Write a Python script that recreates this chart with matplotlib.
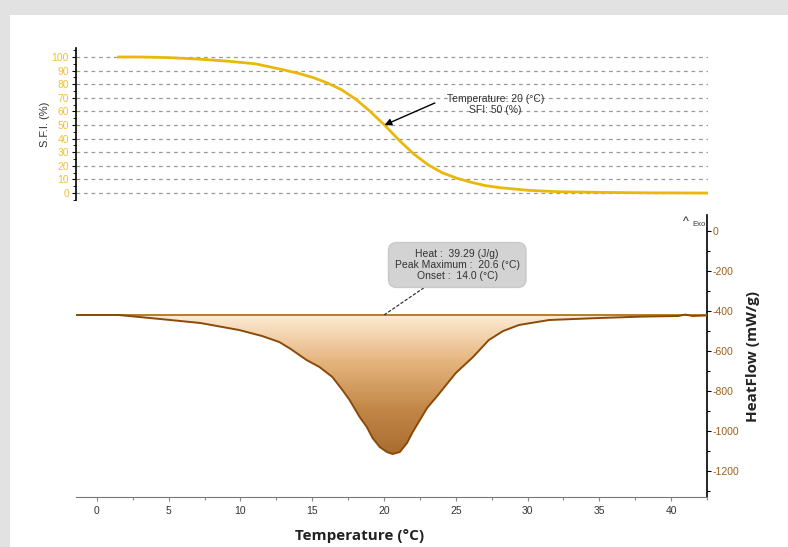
import matplotlib.pyplot as plt
import numpy as np
from matplotlib.patches import Rectangle
from matplotlib.ticker import MultipleLocator
from matplotlib.colors import LinearSegmentedColormap

plt.rcParams["font.family"] = ["Liberation Sans", "DejaVu Sans"]
plt.rcParams["axes.unicode_minus"] = False

# SFI curve (top panel)
sfi_temp = [1.5, 3, 5, 7, 9, 11, 13, 14, 15, 16, 17, 18, 19, 20, 21, 22, 23, 24,
            25, 26, 27, 28, 30, 32, 35, 38, 42.5]
sfi_vals = [100, 100, 99.5, 98.5, 97, 95, 90.5, 88, 85, 81, 76, 69, 60, 50, 39, 29,
            21, 15, 11, 8, 5.5, 4, 2, 1, 0.5, 0.2, 0]

# heat flow curve (bottom panel)
hf_temp = [-1.5, 1.5, 4.4, 7.2, 9.9, 11.5, 12.7, 13.5, 14.1, 14.6, 15.5, 16.4, 17.1,
           17.6, 18.3, 18.8, 19.2, 19.7, 20.2, 20.6, 21.1, 21.6, 22.0, 22.5, 23.0, 23.65,
           25.0, 26.2, 27.3, 28.3, 29.4, 31.5, 35, 38, 40.5, 41, 41.5, 42.5]
hf_vals = [-420, -420, -440, -460, -495, -525, -555, -590, -620, -645, -680, -730, -795,
           -845, -930, -980, -1035, -1080, -1105, -1115, -1105, -1060, -1005, -945, -885,
           -830, -710, -630, -545, -500, -470, -445, -435, -428, -425, -418, -425, -422]
baseline = -420

W, H = 788, 547
fig = plt.figure(figsize=(W / 100, H / 100), dpi=100, facecolor="#e2e2e2")
# page frame
page = Rectangle((10 / W, 0), 1, 1 - 15 / H, transform=fig.transFigure,
                 facecolor="white", edgecolor="none", zorder=-10)
fig.add_artist(page)

ax1 = fig.add_axes([76 / W, 1 - 200 / H, (708 - 76) / W, (200 - 48) / H])
ax2 = fig.add_axes([76 / W, 1 - 497 / H, (707 - 76) / W, (497 - 215) / H])
for a in (ax1, ax2):
    a.set_facecolor("none")

xlim = (-1.46, 42.5)

# ---- top panel
ax1.plot(sfi_temp, sfi_vals, color="#e8b90c", lw=2)
ax1.set_xlim(xlim)
ax1.set_ylim(-5.1, 106.6)
ax1.set_yticks(range(0, 101, 10))
ax1.yaxis.set_minor_locator(MultipleLocator(5))
ax1.tick_params(axis="y", labelsize=7.5, labelcolor="#f0c030", length=3, width=0.8, pad=2)
ax1.tick_params(axis="y", which="minor", length=2)
ax1.set_xticks([])
for s in ("top", "right", "bottom"):
    ax1.spines[s].set_visible(False)
ax1.spines["left"].set_linewidth(1.2)
ax1.grid(axis="y", color="#999999", ls=(0, (3, 3)), lw=0.9)
ax1.set_ylabel("S.F.I. (%)", fontsize=8, color="#333333", labelpad=1)
ax1.text(27.7, 65, "Temperature: 20 (°C)\nSFI: 50 (%)", fontsize=7.5, color="#333333",
         ha="center", va="center")
ax1.annotate("", xy=(20, 50), xytext=(23.5, 66.2),
             arrowprops=dict(arrowstyle="-|>", color="black", lw=1,
                             shrinkA=0, shrinkB=0, mutation_scale=10))

# ---- bottom panel
t = np.array(hf_temp)
v = np.array(hf_vals)
poly = ax2.fill_between(t, baseline, v, color="none")
grad = np.linspace(0, 1, 256).reshape(-1, 1)
cmap = LinearSegmentedColormap.from_list("heat", ["#fdebd3", "#e5b47e", "#c38848", "#a86c30"])
img = ax2.imshow(grad, cmap=cmap, aspect="auto", origin="upper",
                 extent=[xlim[0], xlim[1], -1120, baseline], zorder=1)
img.set_clip_path(poly.get_paths()[0], transform=ax2.transData)
ax2.axhline(baseline, color="#b0741a", lw=1.3, zorder=3)
ax2.plot(t, v, color="#8a4a08", lw=1.4, zorder=4)

ax2.set_xlim(xlim)
ax2.set_ylim(-1330, 80)
ax2.yaxis.tick_right()
ax2.yaxis.set_label_position("right")
ax2.set_yticks(range(-1200, 1, 200))
ax2.yaxis.set_minor_locator(MultipleLocator(100))
ax2.set_xticks(range(0, 41, 5))
ax2.xaxis.set_minor_locator(MultipleLocator(2.5))
ax2.tick_params(axis="y", which="both", labelsize=7.5, labelcolor="#9a5f1e",
                length=3, width=0.8, pad=1)
ax2.tick_params(axis="y", which="minor", length=2)
ax2.tick_params(axis="x", which="both", labelsize=7.5, labelcolor="#333333",
                length=3, width=0.8, color="#888888")
ax2.tick_params(axis="x", which="minor", length=2)
ax2.spines["top"].set_visible(False)
ax2.spines["left"].set_visible(False)
ax2.spines["bottom"].set_color("#777777")
ax2.spines["right"].set_linewidth(1.2)
ax2.set_ylabel("HeatFlow (mW/g)", fontsize=11, fontweight="bold", family="Open Sans",
               color="#222222", labelpad=5)
ax2.set_xlabel("Temperature (°C)", fontsize=11, fontweight="bold", family="Open Sans",
               color="#222222")
ax2.xaxis.set_label_coords((360 - 76) / 631, -0.115)

ax2.annotate("Heat :  39.29 (J/g)\nPeak Maximum :  20.6 (°C)\nOnset :  14.0 (°C)",
             xy=(20, baseline), xytext=(25.1, -170), fontsize=7.5, color="#333333",
             ha="center", va="center", linespacing=1.15,
             bbox=dict(boxstyle="round,pad=0.6,rounding_size=0.8", fc="#d3d3d3", ec="#c8c8c8"),
             arrowprops=dict(arrowstyle="-", ls=(0, (2, 2)), color="#333333", lw=0.9,
                             shrinkA=0, shrinkB=0))
ax2.text(41.0, 45, "^", fontsize=9, color="#222222", ha="center", va="center")
ax2.text(42.4, 30, "Exo", fontsize=5.5, color="#333333", ha="right", va="center")

fig.savefig("out.png", dpi=100, facecolor=fig.get_facecolor())
